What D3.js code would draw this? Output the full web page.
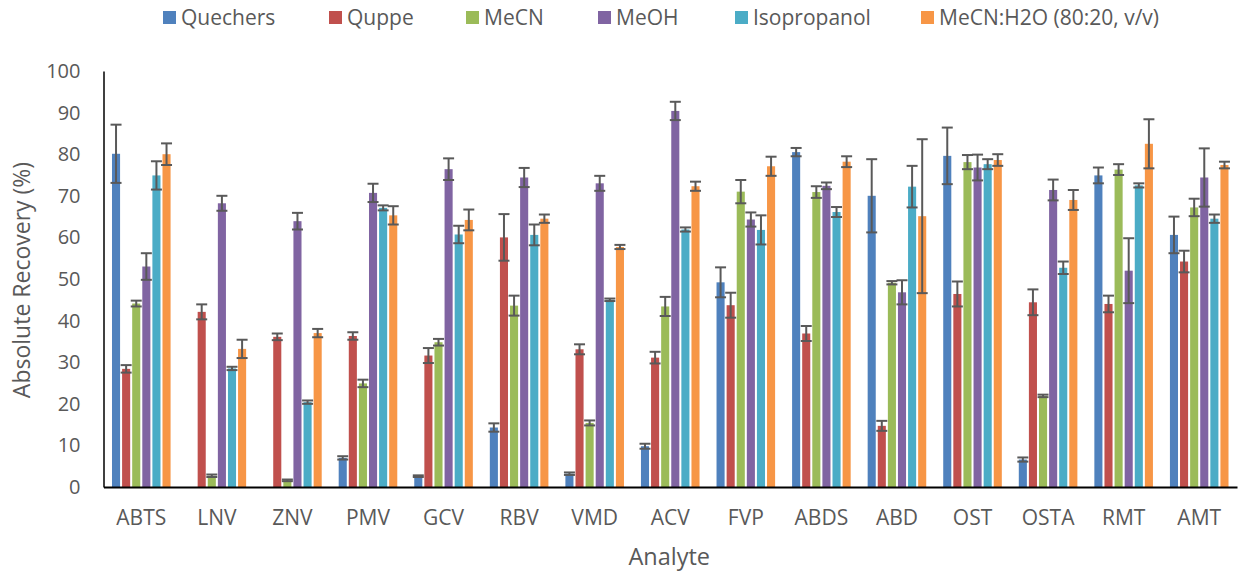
<!DOCTYPE html>
<html>
<head>
<meta charset="utf-8">
<script src="https://cdn.jsdelivr.net/npm/d3@7/dist/d3.min.js"></script>
<style>
  html, body { margin: 0; padding: 0; background: #fff; }
  svg { display: block; font-family: "Open Sans", "Noto Sans", sans-serif; }
</style>
</head>
<body>
<svg id="chart" width="1246" height="579"></svg>
<script>
// Analytes on the x axis
const analytes = ["ABTS", "LNV", "ZNV", "PMV", "GCV", "RBV", "VMD", "ACV", "FVP", "ABDS", "ABD", "OST", "OSTA", "RMT", "AMT"];

// Extraction methods (series)
const methods = ["Quechers", "Quppe", "MeCN", "MeOH", "Isopropanol", "MeCN:H2O (80:20, v/v)"];

// Mean absolute recovery (%) per method, in analyte order
const quechers    = [80.1, 0,    0,    7.0,  2.6,  14.3, 3.2,  9.8,  49.2, 80.5, 70.0, 79.6, 6.6,  74.9, 60.6];
const quppe       = [28.4, 42.1, 36.1, 36.3, 31.6, 60.0, 33.1, 31.1, 43.7, 36.9, 14.7, 46.4, 44.4, 44.0, 54.2];
const mecn        = [44.1, 2.7,  1.6,  24.9, 34.8, 43.6, 15.4, 43.4, 71.0, 70.9, 49.1, 78.1, 21.9, 76.3, 67.2];
const meoh        = [53.0, 68.2, 63.9, 70.7, 76.4, 74.4, 73.0, 90.4, 64.3, 72.4, 46.8, 76.8, 71.4, 52.0, 74.4];
const isopropanol = [74.9, 28.5, 20.4, 67.1, 60.7, 60.6, 45.0, 61.9, 61.8, 66.1, 72.2, 77.6, 52.7, 72.5, 64.5];
const mecnWater   = [80.0, 33.2, 37.0, 65.3, 64.2, 64.5, 57.7, 72.3, 77.1, 78.2, 65.1, 78.6, 69.0, 82.5, 77.4];

// Standard deviations (error bars)
const quechersSd    = [7.0, 0,   0,   0.4, 0.2, 1.0, 0.3, 0.6, 3.6, 1.0, 8.8, 6.8, 0.5, 1.9, 4.4];
const quppeSd       = [0.9, 1.8, 0.8, 0.9, 1.8, 5.6, 1.2, 1.4, 3.0, 1.8, 1.2, 3.0, 3.1, 2.0, 2.6];
const mecnSd        = [0.7, 0.3, 0.2, 0.9, 0.8, 2.4, 0.6, 2.3, 2.8, 1.4, 0.4, 1.7, 0.3, 1.3, 2.1];
const meohSd        = [3.2, 1.8, 2.0, 2.2, 2.6, 2.3, 1.8, 2.2, 1.7, 0.8, 2.9, 3.1, 2.5, 7.8, 7.0];
const isopropanolSd = [3.4, 0.4, 0.4, 0.6, 2.1, 2.5, 0.3, 0.5, 3.5, 1.2, 5.0, 1.2, 1.5, 0.5, 1.0];
const mecnWaterSd   = [2.6, 2.2, 1.0, 2.2, 2.5, 1.0, 0.5, 1.1, 2.3, 1.3, 18.5, 1.4, 2.4, 5.9, 0.8];

const yTicks = [0, 10, 20, 30, 40, 50, 60, 70, 80, 90, 100];

const colors = ["#4F81BD", "#C0504D", "#9BBB59", "#8064A2", "#4BACC6", "#F79646"];

const means = [quechers, quppe, mecn, meoh, isopropanol, mecnWater];
const sds = [quechersSd, quppeSd, mecnSd, meohSd, isopropanolSd, mecnWaterSd];

const svg = d3.select("#chart");
const textColor = "#595959";

const plot = { left: 103.5, right: 1237, top: 71, bottom: 487 };

const x0 = d3.scaleBand().domain(analytes).range([plot.left, plot.right]).padding(0);
const groupWidth = 60.6;
const x1 = d3.scaleBand().domain(methods)
  .range([(x0.bandwidth() - groupWidth) / 2, (x0.bandwidth() + groupWidth) / 2])
  .paddingInner(0.2).paddingOuter(0.1);
const y = d3.scaleLinear().domain([0, 100]).range([plot.bottom, plot.top]);

// Flattened records for bars and error bars
const records = [];
methods.forEach((m, si) => {
  analytes.forEach((a, ai) => {
    records.push({ analyte: a, method: m, si, value: means[si][ai], sd: sds[si][ai] });
  });
});

// Bars
svg.append("g").selectAll("rect")
  .data(records)
  .join("rect")
  .attr("x", d => x0(d.analyte) + x1(d.method))
  .attr("y", d => y(d.value))
  .attr("width", x1.bandwidth())
  .attr("height", d => y(0) - y(d.value))
  .attr("fill", d => colors[d.si]);

// Error bars
const capHalf = 5.5;
const eb = svg.append("g")
  .attr("stroke", "#595959")
  .attr("stroke-width", 2)
  .attr("fill", "none");
records.filter(d => d.value > 0).forEach(d => {
  const cx = x0(d.analyte) + x1(d.method) + x1.bandwidth() / 2;
  const yt = y(d.value + d.sd), yb = y(d.value - d.sd);
  eb.append("line").attr("x1", cx).attr("x2", cx).attr("y1", yt).attr("y2", yb);
  eb.append("line").attr("x1", cx - capHalf).attr("x2", cx + capHalf).attr("y1", yt).attr("y2", yt);
  eb.append("line").attr("x1", cx - capHalf).attr("x2", cx + capHalf).attr("y1", yb).attr("y2", yb);
});

// Y axis
const yAxis = svg.append("g")
  .attr("transform", `translate(${plot.left},0)`)
  .call(d3.axisLeft(y).tickValues(yTicks).tickSize(0).tickPadding(23));
yAxis.select(".domain").attr("stroke", "#000").attr("stroke-width", 1.5);
yAxis.selectAll("text").attr("fill", textColor).attr("font-size", 20)
  .attr("font-family", "'Open Sans', sans-serif");

// X axis
const xAxis = svg.append("g")
  .attr("transform", `translate(0,${plot.bottom})`)
  .call(d3.axisBottom(x0).tickSize(0).tickPadding(23));
xAxis.select(".domain").attr("stroke", "#000").attr("stroke-width", 2);
xAxis.selectAll("text").attr("fill", textColor).attr("font-size", 21)
  .attr("font-family", "'Open Sans', sans-serif");

// Axis titles
svg.append("text")
  .attr("x", (plot.left + plot.right) / 2 - 1)
  .attr("y", 565)
  .attr("text-anchor", "middle")
  .attr("fill", textColor)
  .attr("font-size", 23.5)
  .text("Analyte");

svg.append("text")
  .attr("transform", `translate(30,280) rotate(-90)`)
  .attr("text-anchor", "middle")
  .attr("fill", textColor)
  .attr("font-size", 23)
  .text("Absolute Recovery (%)");

// Legend: swatch x positions across the top
const legendX = [163, 329, 466, 598, 735, 921];
const legend = svg.append("g");
methods.forEach((m, i) => {
  const g = legend.append("g").attr("transform", `translate(${legendX[i]},0)`);
  g.append("rect").attr("x", 0).attr("y", 11).attr("width", 13).attr("height", 13).attr("fill", colors[i]);
  g.append("text").attr("x", 18).attr("y", 25)
    .attr("fill", textColor).attr("font-size", 21).text(m);
});
</script>
</body>
</html>
